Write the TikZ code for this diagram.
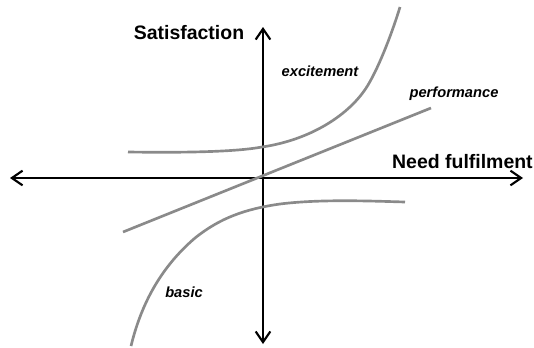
\documentclass[tikz,border=0pt]{standalone}
\usepackage{fontspec}
\setmainfont{Liberation Sans}
\usetikzlibrary{arrows.meta}

\tikzset{
  axis/.style={line width=1.6, {Straight Barb[length=8pt,width=11pt]}-{Straight Barb[length=8pt,width=11pt]}},
  curve/.style={color={rgb, 255:red, 138; green, 138; blue, 138 }, line width=2},
  lbl/.style={font=\bfseries\itshape\fontsize{11}{13}\selectfont, inner sep=0pt},
  axislbl/.style={font=\bfseries\fontsize{14.6}{17}\selectfont, inner sep=0pt}
}

\begin{document}
\begin{tikzpicture}[x=0.75pt,y=0.75pt,yscale=-1,xscale=1]
\useasboundingbox (0,0) rectangle (534,347);

%Coordinates: axis ends
\coordinate (left) at (10,178);
\coordinate (right) at (523,178);
\coordinate (top) at (263,27);
\coordinate (bottom) at (263,344);

%Straight Lines: need fulfilment axis
\draw [axis] (left) -- (right) ;
%Straight Lines: satisfaction axis
\draw [axis] (bottom) -- (top) ;

%Curve: excitement
\draw [curve] (128,152) .. controls (200,153) and (240,151) .. (262,147) .. controls (310,140) and (350,115) .. (368,85) .. controls (380,65) and (393,30) .. (400,7) ;
%Straight Lines: performance
\draw [curve] (123,232) -- (431,108) ;
%Curve: basic
\draw [curve] (131,346) .. controls (141,305) and (160,268) .. (195,238) .. controls (220,218) and (245,209) .. (280,204) .. controls (320,199) and (370,201) .. (405,202) ;

%Text nodes
\node [axislbl] (satis) at (189,33) {Satisfaction};
\node [axislbl, anchor=east] (need) at (533,162) {Need fulfilment};
\node [lbl] (excite) at (320,71) {excitement};
\node [lbl] (perform) at (454,94) {performance};
\node [lbl] (basic) at (184,292) {basic};

\end{tikzpicture}
\end{document}
